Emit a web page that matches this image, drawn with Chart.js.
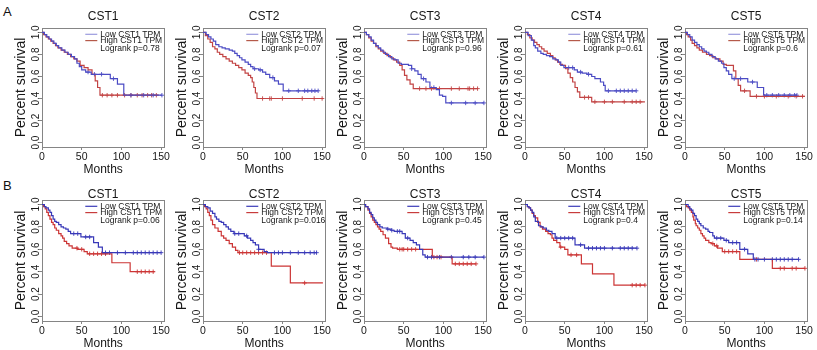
<!DOCTYPE html>
<html>
<head>
<meta charset="utf-8">
<script src="https://cdn.jsdelivr.net/npm/chart.js@4.4.1/dist/chart.umd.min.js"></script>
<style>
  html, body { margin: 0; padding: 0; background: #fff; }
  #page { position: relative; width: 817px; height: 350px; overflow: hidden; background: #fff; }
  #page canvas { position: absolute; }
  .tag { position: absolute; font: 13px 'Liberation Sans', Arial, sans-serif; color: #111; }
</style>
</head>
<body>
<div id="page">
  <div class="tag" style="left:3px;top:4px">A</div>
  <div class="tag" style="left:3px;top:178px">B</div>
</div>
<script>
const genes = ['CST1', 'CST2', 'CST3', 'CST4', 'CST5'];
const pValuesA = ['0.78', '0.07', '0.96', '0.61', '0.6'];
const pValuesB = ['0.06', '0.016', '0.45', '0.4', '0.14'];
const monthTicks = [0, 50, 100, 150];
const survivalTicks = [0, 0.2, 0.4, 0.6, 0.8, 1.0];

// Kaplan-Meier steps, [month, survival after the drop]. Row A (top)
const aLowCst1 = [[0,1],[3,0.98],[6,0.96],[9,0.94],[12,0.92],[15,0.9],[18,0.88],[21,0.86],[25,0.84],[29,0.82],[33,0.8],[37,0.78],[41,0.76],[44,0.72],[47,0.69],[50,0.66],[55,0.64],[62,0.62],[86,0.58],[95,0.53],[103,0.43],[151,0.43]];
const aHighCst1 = [[0,1],[2,0.98],[5,0.96],[8,0.94],[11,0.92],[14,0.9],[17,0.88],[20,0.86],[24,0.84],[28,0.82],[32,0.8],[36,0.78],[40,0.76],[44,0.74],[48,0.7],[53,0.68],[58,0.66],[63,0.62],[67,0.56],[70,0.5],[73,0.43],[147,0.43]];
const aLowCst2 = [[0,1],[4,0.98],[7,0.96],[10,0.94],[13,0.92],[16,0.89],[20,0.87],[24,0.86],[28,0.85],[33,0.84],[37,0.83],[40,0.81],[43,0.79],[46,0.77],[49,0.75],[53,0.73],[57,0.71],[60,0.69],[63,0.67],[70,0.66],[75,0.64],[79,0.62],[84,0.59],[90,0.56],[95,0.53],[101,0.47],[145,0.47]];
const aHighCst2 = [[0,1],[3,0.97],[6,0.94],[9,0.91],[12,0.87],[15,0.85],[18,0.82],[21,0.8],[25,0.78],[29,0.76],[33,0.74],[37,0.72],[41,0.7],[45,0.68],[49,0.66],[53,0.63],[57,0.61],[60,0.59],[62,0.55],[64,0.5],[66,0.45],[68,0.4],[151,0.4]];
const aLowCst3 = [[0,1],[3,0.98],[6,0.96],[9,0.93],[12,0.9],[15,0.88],[18,0.86],[21,0.84],[24,0.82],[27,0.8],[31,0.78],[35,0.76],[39,0.75],[43,0.72],[47,0.71],[56,0.7],[60,0.67],[64,0.65],[68,0.62],[72,0.58],[78,0.55],[83,0.5],[91,0.48],[95,0.43],[99,0.42],[103,0.36],[151,0.36]];
const aHighCst3 = [[0,1],[3,0.98],[6,0.95],[9,0.92],[12,0.9],[15,0.87],[18,0.85],[21,0.83],[25,0.81],[29,0.79],[33,0.77],[37,0.75],[41,0.73],[45,0.7],[48,0.66],[51,0.61],[54,0.57],[58,0.53],[62,0.49],[143,0.49]];
const aLowCst4 = [[0,1],[4,0.97],[8,0.93],[11,0.88],[13,0.86],[16,0.83],[20,0.81],[23,0.8],[27,0.79],[31,0.78],[35,0.76],[39,0.75],[42,0.73],[45,0.7],[49,0.68],[62,0.66],[66,0.64],[72,0.63],[78,0.62],[84,0.6],[88,0.58],[95,0.55],[99,0.52],[101,0.47],[140,0.47]];
const aHighCst4 = [[0,1],[3,0.98],[6,0.95],[9,0.93],[12,0.91],[15,0.89],[18,0.87],[21,0.85],[24,0.83],[28,0.81],[32,0.79],[35,0.77],[38,0.75],[41,0.73],[44,0.71],[47,0.7],[51,0.67],[54,0.63],[57,0.59],[60,0.55],[63,0.5],[66,0.46],[69,0.41],[84,0.37],[151,0.37]];
const aLowCst5 = [[0,1],[3,0.98],[6,0.96],[9,0.93],[12,0.91],[15,0.89],[18,0.87],[21,0.85],[24,0.83],[27,0.82],[30,0.8],[34,0.78],[38,0.76],[42,0.74],[46,0.72],[49,0.68],[52,0.65],[55,0.62],[59,0.58],[79,0.55],[91,0.5],[99,0.43],[141,0.43]];
const aHighCst5 = [[0,1],[2,0.98],[4,0.96],[7,0.93],[9,0.9],[12,0.88],[15,0.86],[18,0.84],[22,0.82],[27,0.8],[31,0.79],[35,0.77],[39,0.76],[44,0.74],[48,0.71],[52,0.7],[61,0.65],[64,0.58],[67,0.52],[70,0.47],[82,0.42],[151,0.42]];

// Row B (bottom)
const bLowCst1 = [[0,1],[3,0.98],[5,0.97],[8,0.95],[10,0.93],[12,0.9],[14,0.87],[16,0.85],[18,0.84],[21,0.82],[24,0.8],[27,0.79],[30,0.78],[33,0.76],[36,0.74],[49,0.71],[65,0.66],[71,0.62],[76,0.57],[150,0.57]];
const bHighCst1 = [[0,1],[2,0.98],[4,0.96],[6,0.93],[8,0.9],[10,0.87],[12,0.84],[14,0.82],[16,0.79],[18,0.77],[21,0.74],[24,0.72],[26,0.7],[28,0.67],[31,0.65],[34,0.63],[38,0.61],[45,0.6],[53,0.58],[57,0.56],[88,0.48],[111,0.4],[142,0.4]];
const bLowCst2 = [[0,1],[3,0.98],[6,0.97],[9,0.94],[12,0.92],[15,0.89],[17,0.87],[20,0.85],[23,0.84],[26,0.82],[29,0.8],[32,0.78],[35,0.76],[39,0.74],[52,0.72],[56,0.7],[60,0.68],[63,0.66],[66,0.64],[70,0.6],[77,0.58],[81,0.57],[143,0.57]];
const bHighCst2 = [[0,1],[2,0.98],[4,0.96],[6,0.93],[8,0.9],[10,0.86],[12,0.82],[15,0.79],[19,0.76],[23,0.72],[26,0.7],[29,0.68],[33,0.65],[37,0.62],[41,0.59],[44,0.57],[86,0.45],[110,0.3],[151,0.3]];
const bLowCst3 = [[0,1],[2,0.98],[5,0.96],[7,0.93],[9,0.91],[11,0.88],[13,0.86],[15,0.84],[17,0.82],[20,0.8],[23,0.79],[29,0.78],[34,0.77],[38,0.76],[48,0.74],[52,0.7],[58,0.68],[62,0.66],[66,0.64],[70,0.6],[74,0.55],[77,0.53],[151,0.53]];
const bHighCst3 = [[0,1],[2,0.98],[5,0.95],[7,0.92],[9,0.89],[11,0.86],[13,0.84],[15,0.82],[17,0.8],[19,0.78],[21,0.76],[24,0.73],[27,0.7],[31,0.65],[34,0.62],[36,0.61],[42,0.6],[86,0.53],[111,0.47],[141,0.47]];
const bLowCst4 = [[0,1],[3,0.98],[5,0.97],[7,0.95],[9,0.93],[11,0.89],[13,0.85],[17,0.81],[20,0.8],[23,0.79],[27,0.77],[30,0.76],[34,0.74],[38,0.7],[63,0.64],[75,0.61],[141,0.61]];
const bHighCst4 = [[0,1],[3,0.98],[5,0.97],[7,0.95],[9,0.92],[11,0.9],[13,0.88],[16,0.84],[19,0.8],[22,0.78],[26,0.76],[29,0.74],[32,0.73],[34,0.7],[36,0.68],[40,0.66],[44,0.62],[50,0.6],[54,0.55],[71,0.47],[85,0.38],[112,0.28],[151,0.28]];
const bLowCst5 = [[0,1],[4,0.98],[6,0.96],[8,0.95],[10,0.92],[12,0.9],[14,0.87],[16,0.85],[18,0.83],[20,0.81],[23,0.79],[26,0.78],[29,0.76],[31,0.75],[35,0.72],[37,0.7],[49,0.68],[55,0.66],[69,0.6],[79,0.56],[86,0.51],[143,0.51]];
const bHighCst5 = [[0,1],[2,0.98],[4,0.97],[6,0.95],[8,0.93],[10,0.89],[11,0.86],[13,0.83],[14,0.81],[16,0.79],[18,0.77],[20,0.74],[22,0.72],[24,0.7],[26,0.68],[30,0.66],[33,0.65],[37,0.63],[41,0.61],[47,0.58],[69,0.51],[110,0.43],[151,0.43]];

// censored patients (months), drawn as + on the curves
const aLowCst1Cens = [58, 66, 75, 90, 112, 128, 140, 151];
const aHighCst1Cens = [76, 82, 88, 95, 104, 112, 120, 126, 133, 138, 144];
const aLowCst2Cens = [65, 72, 88, 108, 120, 128, 132, 137, 141, 145];
const aHighCst2Cens = [75, 84, 86, 100, 125, 140, 150];
const aLowCst3Cens = [60, 75, 88, 110, 128, 140, 151];
const aHighCst3Cens = [70, 78, 85, 95, 110, 120, 131, 133, 138, 143];
const aLowCst4Cens = [55, 60, 70, 80, 105, 115, 120, 125, 130, 135, 140];
const aHighCst4Cens = [75, 80, 88, 100, 110, 125, 135, 140, 145];
const aLowCst5Cens = [62, 70, 85, 103, 110, 118, 125, 132, 138, 141];
const aHighCst5Cens = [75, 90, 100, 115, 130, 140, 148];
const bLowCst1Cens = [40, 45, 55, 60, 80, 85, 95, 105, 115, 120, 125, 130, 135, 140, 145, 150];
const bHighCst1Cens = [44, 50, 60, 65, 70, 75, 80, 120, 125, 130, 135, 140];
const bLowCst2Cens = [40, 45, 55, 70, 90, 95, 100, 110, 120, 128, 135, 140, 143];
const bHighCst2Cens = [46, 50, 55, 60, 65, 70, 75, 80, 128];
const bLowCst3Cens = [30, 35, 42, 45, 55, 80, 85, 95, 110, 125, 132, 140, 151];
const bHighCst3Cens = [45, 48, 50, 55, 60, 65, 88, 92, 97, 115, 120, 125, 130, 135, 141];
const bLowCst4Cens = [40, 45, 50, 55, 60, 70, 80, 85, 90, 95, 100, 110, 120, 125, 130, 135, 141];
const bHighCst4Cens = [45, 58, 65, 135, 140, 145, 151];
const bLowCst5Cens = [40, 45, 52, 60, 65, 75, 88, 92, 100, 110, 115, 120, 125, 130, 135, 143];
const bHighCst5Cens = [35, 40, 50, 55, 60, 65, 90, 120, 125, 135, 140, 151];

const rowA = [
  [aLowCst1, aHighCst1, aLowCst1Cens, aHighCst1Cens],
  [aLowCst2, aHighCst2, aLowCst2Cens, aHighCst2Cens],
  [aLowCst3, aHighCst3, aLowCst3Cens, aHighCst3Cens],
  [aLowCst4, aHighCst4, aLowCst4Cens, aHighCst4Cens],
  [aLowCst5, aHighCst5, aLowCst5Cens, aHighCst5Cens]
];
const rowB = [
  [bLowCst1, bHighCst1, bLowCst1Cens, bHighCst1Cens],
  [bLowCst2, bHighCst2, bLowCst2Cens, bHighCst2Cens],
  [bLowCst3, bHighCst3, bLowCst3Cens, bHighCst3Cens],
  [bLowCst4, bHighCst4, bLowCst4Cens, bHighCst4Cens],
  [bLowCst5, bHighCst5, bLowCst5Cens, bHighCst5Cens]
];

// page layout
const colLeft = [42, 202.5, 364.3, 525, 685];   // pixel of month 0
const rowTop = [28, 200];
const rowPlotH = [119, 121];
const titleGap = [11, 5.5];
const plotW = 125, axisW = 34, padTop = 28, padRight = 4, axisH = 30;

const sansFont = "'Liberation Sans', Arial, sans-serif";
const narrowFont = "'Liberation Sans Narrow', 'Liberation Sans', Arial, sans-serif";
const textColor = '#161616';
const axisColor = '#858585';
const lowColor = ['#4b4bc4', '#3838b8'];
const highColor = ['#c24343', '#cc3535'];
const legendLow = ['#9a9ade', '#3a3ab8'];
const legendHigh = ['#b55a4a', '#c83c3c'];

function survivalAt(curve, t) {
  let s = curve[0][1];
  for (const [m, v] of curve) {
    if (m <= t) s = v; else break;
  }
  return s;
}

// box, panel title and legend
const kmDecor = {
  id: 'kmDecor',
  beforeDatasetsDraw(chart, args, o) {
    const a = chart.chartArea, ctx = chart.ctx;
    ctx.save();
    ctx.strokeStyle = axisColor;
    ctx.lineWidth = 1;
    ctx.strokeRect(Math.round(a.left) + 0.5, Math.round(a.top) + 0.5, Math.round(a.right - a.left), Math.round(a.bottom - a.top));
    ctx.restore();
  },
  afterDraw(chart, args, o) {
    const a = chart.chartArea, ctx = chart.ctx;
    ctx.save();
    ctx.fillStyle = textColor;
    ctx.textBaseline = 'middle';
    ctx.textAlign = 'center';
    ctx.font = '12px ' + narrowFont;
    ctx.fillText(o.title, (a.left + a.right) / 2, a.top - o.gap);

    ctx.font = '8.5px ' + sansFont;
    ctx.textAlign = 'left';
    const rows = [['Low ' + o.title + ' TPM', o.low, 6.3], ['High ' + o.title + ' TPM', o.high, 12.6]];
    rows.forEach(([label, color, dy]) => {
      ctx.strokeStyle = color;
      ctx.lineWidth = 1.2;
      ctx.beginPath();
      ctx.moveTo(a.right - 79, a.top + dy);
      ctx.lineTo(a.right - 67, a.top + dy);
      ctx.stroke();
      ctx.fillText(label, a.right - 64, a.top + dy);
    });
    ctx.fillText('Logrank p=' + o.p, a.right - 64, a.top + 20.5);
    ctx.restore();
  }
};

function drawPanel(row, col) {
  const [low, high, lowCens, highCens] = (row === 0 ? rowA : rowB)[col];
  const pValue = (row === 0 ? pValuesA : pValuesB)[col];
  const plotH = rowPlotH[row];

  const canvas = document.createElement('canvas');
  const w = axisW + plotW + padRight, h = padTop + plotH + axisH;
  canvas.width = w;
  canvas.height = h;
  canvas.style.width = w + 'px';
  canvas.style.height = h + 'px';
  canvas.style.left = (colLeft[col] - axisW) + 'px';
  canvas.style.top = (rowTop[row] - padTop) + 'px';
  document.getElementById('page').appendChild(canvas);

  const curve = (pts, color) => ({
    data: pts.map(([m, s]) => ({ x: m, y: s })),
    showLine: true, stepped: true, borderColor: color, borderWidth: 1.2,
    pointRadius: 0, fill: false
  });
  const marks = (times, pts, color) => ({
    data: times.map(m => ({ x: m, y: survivalAt(pts, m) })),
    showLine: false, pointStyle: 'cross', pointRadius: 2.2,
    borderColor: color, borderWidth: 0.9, backgroundColor: color
  });

  new Chart(canvas, {
    type: 'scatter',
    data: {
      datasets: [
        curve(low, lowColor[row]),
        curve(high, highColor[row]),
        marks(lowCens, low, lowColor[row]),
        marks(highCens, high, highColor[row])
      ]
    },
    options: {
      responsive: false,
      animation: false,
      devicePixelRatio: 1,
      layout: { padding: { top: padTop, right: padRight, left: 0, bottom: 0 } },
      plugins: {
        legend: { display: false },
        tooltip: { enabled: false },
        kmDecor: {
          title: genes[col], p: pValue, gap: titleGap[row],
          low: legendLow[row], high: legendHigh[row]
        }
      },
      scales: {
        x: {
          type: 'linear', min: 0, max: 154,
          afterBuildTicks: s => { s.ticks = monthTicks.map(v => ({ value: v })); },
          afterFit: s => { s.height = axisH; },
          border: { display: false },
          grid: { drawOnChartArea: false, drawTicks: true, tickLength: 3, color: axisColor },
          ticks: { autoSkip: false, maxRotation: 0, padding: 1, color: textColor,
                   font: { family: narrowFont, size: 10.5 } },
          title: { display: true, text: 'Months', color: textColor,
                   font: { family: sansFont, size: 12, lineHeight: 1.2 }, padding: { top: 0, bottom: 0.5 } }
        },
        y: {
          type: 'linear', min: -0.04, max: 1.04,
          afterBuildTicks: s => { s.ticks = survivalTicks.map(v => ({ value: v })); },
          afterFit: s => { s.width = axisW; },
          border: { display: false },
          grid: { drawOnChartArea: false, drawTicks: true, tickLength: 3, color: axisColor },
          ticks: { autoSkip: false, minRotation: 90, maxRotation: 90, crossAlign: 'center', padding: -4,
                   color: textColor, font: { family: sansFont, size: 10 },
                   callback: v => Number(v).toFixed(1) },
          title: { display: true, text: 'Percent survival', color: textColor,
                   font: { family: sansFont, size: 14, lineHeight: 1 }, padding: { top: 6, bottom: 0 } }
        }
      }
    },
    plugins: [kmDecor]
  });
}

for (let row = 0; row < 2; row++) {
  for (let col = 0; col < 5; col++) drawPanel(row, col);
}
</script>
</body>
</html>
